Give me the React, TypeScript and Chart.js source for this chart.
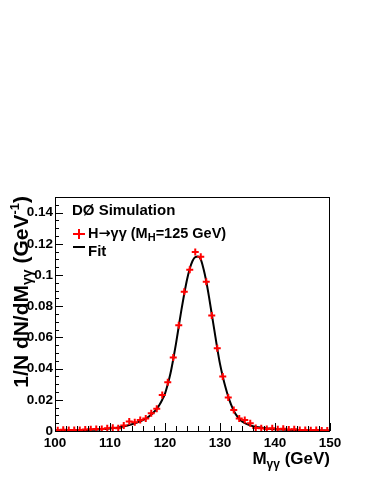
import React, { useEffect, useRef } from "react";
import { Chart, registerables } from "chart.js";

Chart.register(...registerables);

// ---- Data ----
const massBins = [
  100.5, 101.5, 102.5, 103.5, 104.5, 105.5, 106.5, 107.5, 108.5, 109.5,
  110.5, 111.5, 112.5, 113.5, 114.5, 115.5, 116.5, 117.5, 118.5, 119.5,
  120.5, 121.5, 122.5, 123.5, 124.5, 125.5, 126.5, 127.5, 128.5, 129.5,
  130.5, 131.5, 132.5, 133.5, 134.5, 135.5, 136.5, 137.5, 138.5, 139.5,
  140.5, 141.5, 142.5, 143.5, 144.5, 145.5, 146.5, 147.5, 148.5, 149.5,
];
const simValues = [
  0.0005, 0.0008, 0.0006, 0.0006, 0.0006, 0.0009, 0.0011, 0.0013, 0.0013, 0.0017,
  0.0021, 0.0017, 0.0036, 0.0061, 0.0056, 0.0071, 0.008, 0.0113, 0.0143, 0.023,
  0.0312, 0.0471, 0.0678, 0.0892, 0.1033, 0.1147, 0.1117, 0.0956, 0.074, 0.053,
  0.035, 0.0214, 0.0135, 0.008, 0.0071, 0.0049, 0.0019, 0.0017, 0.0013, 0.0017,
  0.0011, 0.0015, 0.0009, 0.0011, 0.0007, 0.0007, 0.0005, 0.0006, 0.0004, 0.0003,
];
const fitMass = [
  100, 102, 104, 106, 108, 110, 111, 112, 113, 114, 115, 116, 117, 117.5, 118,
  118.5, 119, 119.5, 120, 120.5, 121, 121.5, 122, 122.5, 123, 123.5, 124, 124.5,
  125, 125.5, 126, 126.5, 127, 127.5, 128, 128.5, 129, 129.5, 130, 130.5, 131,
  131.5, 132, 132.5, 133, 133.5, 134, 135, 136, 137, 138, 139, 140, 142, 144,
  147, 150,
];
const fitValues = [
  0.0003, 0.0004, 0.0005, 0.0007, 0.001, 0.0016, 0.002, 0.0026, 0.0034, 0.0043,
  0.0055, 0.007, 0.0091, 0.0105, 0.0122, 0.0142, 0.0168, 0.02, 0.024, 0.03,
  0.037, 0.046, 0.056, 0.067, 0.078, 0.088, 0.097, 0.104, 0.109, 0.1115, 0.1118,
  0.11, 0.104, 0.096, 0.086, 0.075, 0.064, 0.053, 0.043, 0.035, 0.028, 0.022,
  0.017, 0.013, 0.01, 0.0078, 0.0062, 0.0043, 0.0031, 0.0024, 0.0019, 0.0015,
  0.0012, 0.0008, 0.0006, 0.0004, 0.0003,
];
const xTickValues = [100, 110, 120, 130, 140, 150];
const xTickLabels = ["100", "110", "120", "130", "140", "150"];
const yTickValues = [0, 0.02, 0.04, 0.06, 0.08, 0.1, 0.12, 0.14];
const yTickLabels = ["0", "0.02", "0.04", "0.06", "0.08", "0.1", "0.12", "0.14"];

const FONT = '"Liberation Sans", Arial, Helvetica, sans-serif';

type Seg = { t: string; size: number; dy: number; font?: string };

function drawSegs(ctx: CanvasRenderingContext2D, segs: Seg[], x: number, y: number) {
  let cx = x;
  for (const s of segs) {
    ctx.font = `bold ${s.size}px ${s.font || FONT}`;
    ctx.fillText(s.t, cx, y + s.dy);
    cx += ctx.measureText(s.t).width;
  }
  return cx;
}
function segsWidth(ctx: CanvasRenderingContext2D, segs: Seg[]) {
  let w = 0;
  for (const s of segs) {
    ctx.font = `bold ${s.size}px ${s.font || FONT}`;
    w += ctx.measureText(s.t).width;
  }
  return w;
}

const framePlugin = {
  id: "rootFrame",
  afterDraw(chart: any) {
    const ctx: CanvasRenderingContext2D = chart.ctx;
    const { left, right, top, bottom } = chart.chartArea;
    const xs = chart.scales.x;
    const ys = chart.scales.y;
    ctx.save();
    ctx.strokeStyle = "#000";
    ctx.lineWidth = 1;
    ctx.strokeRect(left + 0.5, top + 0.5, right - left - 1, bottom - top);
    ctx.beginPath();
    // y ticks
    for (let i = 0; i <= 30; i++) {
      const v = i * 0.005;
      const py = Math.round(ys.getPixelForValue(v)) + 0.5;
      const len = i % 4 === 0 ? 8 : 4;
      ctx.moveTo(left, py);
      ctx.lineTo(left + len, py);
    }
    // x ticks
    for (let i = 0; i <= 25; i++) {
      const v = 100 + i * 2;
      const px = Math.round(xs.getPixelForValue(v)) + 0.5;
      const len = i % 5 === 0 ? 8 : 5;
      ctx.moveTo(px, bottom);
      ctx.lineTo(px, bottom - len);
    }
    ctx.stroke();

    ctx.fillStyle = "#000";
    ctx.textAlign = "left";
    ctx.textBaseline = "alphabetic";

    // Legend
    ctx.font = `bold 15px ${FONT}`;
    ctx.fillText("DØ Simulation", 72, 215);
    // red cross
    ctx.strokeStyle = "#ff0000";
    ctx.lineWidth = 2;
    ctx.beginPath();
    ctx.moveTo(73, 234);
    ctx.lineTo(85, 234);
    ctx.moveTo(79, 229);
    ctx.lineTo(79, 239);
    ctx.stroke();
    drawSegs(
      ctx,
      [
        { t: "H", size: 14.5, dy: 0 },
        { t: "→", size: 14.5, dy: 0, font: '"DejaVu Sans", sans-serif' },
        { t: "γγ (M", size: 14.5, dy: 0 },
        { t: "H", size: 11, dy: 3 },
        { t: "=125 GeV)", size: 14.5, dy: 0 },
      ],
      88,
      238
    );
    ctx.strokeStyle = "#000";
    ctx.beginPath();
    ctx.moveTo(73, 247);
    ctx.lineTo(85, 247);
    ctx.stroke();
    ctx.font = `bold 15px ${FONT}`;
    ctx.fillText("Fit", 88, 256);

    // x title
    const xSegs: Seg[] = [
      { t: "M", size: 17, dy: 0 },
      { t: "γγ", size: 12, dy: 4 },
      { t: " (GeV)", size: 17, dy: 0 },
    ];
    const xw = segsWidth(ctx, xSegs);
    drawSegs(ctx, xSegs, 330 - xw, 464);

    // y title (rotated)
    const ySegs: Seg[] = [
      { t: "1/N dN/dM", size: 21, dy: 0 },
      { t: "γγ", size: 14, dy: 4 },
      { t: " (GeV", size: 21, dy: 0 },
      { t: "-1", size: 13, dy: -9 },
      { t: ")", size: 21, dy: 0 },
    ];
    const yw = segsWidth(ctx, ySegs);
    ctx.translate(28, 196 + yw);
    ctx.rotate(-Math.PI / 2);
    drawSegs(ctx, ySegs, 0, 0);
    ctx.restore();
  },
};

export default function App() {
  const ref = useRef<HTMLCanvasElement | null>(null);
  useEffect(() => {
    if (!ref.current) return;
    const chart = new Chart(ref.current, {
      type: "scatter",
      data: {
        datasets: [
          {
            label: "H→γγ",
            data: massBins.map((m, i) => ({ x: m, y: simValues[i] })),
            pointStyle: "cross",
            pointRadius: 3.5,
            borderColor: "#ff0000",
            backgroundColor: "#ff0000",
            borderWidth: 2,
            order: 0,
          } as any,
          {
            type: "line",
            label: "Fit",
            data: fitMass.map((m, i) => ({ x: m, y: fitValues[i] })),
            borderColor: "#000",
            borderWidth: 2,
            pointRadius: 0,
            showLine: true,
            cubicInterpolationMode: "monotone",
            fill: false,
            order: 1,
          } as any,
        ],
      },
      options: {
        animation: false,
        responsive: false,
        maintainAspectRatio: false,
        layout: { padding: { left: 0, top: 197, right: 44, bottom: 0 } },
        plugins: { legend: { display: false }, tooltip: { enabled: false } },
        scales: {
          x: {
            type: "linear",
            min: 100,
            max: 150,
            grid: { display: false, drawTicks: false },
            border: { display: false },
            afterBuildTicks: (s: any) => {
              s.ticks = xTickValues.map((value) => ({ value }));
            },
            afterFit: (s: any) => {
              s.height = 53;
            },
            ticks: {
              padding: 4,
              maxRotation: 0,
              autoSkip: false,
              color: "#000",
              font: { family: FONT, size: 13.5, weight: "bold" },
              callback: (_v: any, i: number) => xTickLabels[i],
            },
          },
          y: {
            type: "linear",
            min: 0,
            max: 0.15,
            grid: { display: false, drawTicks: false },
            border: { display: false },
            afterBuildTicks: (s: any) => {
              s.ticks = yTickValues.map((value) => ({ value }));
            },
            afterFit: (s: any) => {
              s.width = 55;
            },
            ticks: {
              padding: 2,
              autoSkip: false,
              color: "#000",
              font: { family: FONT, size: 13.5, weight: "bold" },
              callback: (_v: any, i: number) => yTickLabels[i],
            },
          },
        },
      },
      plugins: [framePlugin],
    });
    return () => chart.destroy();
  }, []);
  return (
    <div style={{ position: "absolute", left: 0, top: 0, width: 374, height: 484, background: "#fff" }}>
      <canvas ref={ref} width={374} height={484} style={{ width: 374, height: 484 }} />
    </div>
  );
}
